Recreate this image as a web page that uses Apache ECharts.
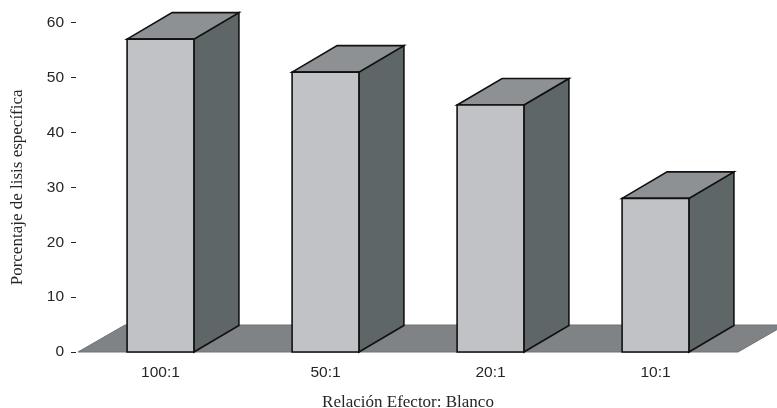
<!DOCTYPE html>
<html>
<head>
<meta charset="utf-8">
<script src="https://cdn.jsdelivr.net/npm/echarts@6/dist/echarts.min.js"></script>
<style>
  html, body { margin: 0; padding: 0; background: #ffffff; }
  #chart { width: 777px; height: 408px; }
</style>
</head>
<body>
<div id="chart"></div>
<script>
// Effector:target ratios and the specific lysis measured at each one
const categories = ['100:1', '50:1', '20:1', '10:1'];
const lysisValues = [57, 51, 45, 28];
const yTicks = [0, 10, 20, 30, 40, 50, 60];

// Oblique offset used for the box depth and the floor
const DEPTH_X = 45;
const DEPTH_Y = -26.5;

const chart = echarts.init(document.getElementById('chart'), null, { renderer: 'canvas' });

function renderFloor(params, api) {
  const cs = params.coordSys;
  const base = api.coord([0, 0])[1];
  const x0 = cs.x, x1 = cs.x + cs.width;
  return {
    type: 'polygon',
    shape: { points: [[x0, base], [x0 + DEPTH_X + 2, base + DEPTH_Y - 0.5], [x1 + DEPTH_X + 2, base + DEPTH_Y - 0.5], [x1, base]] },
    style: { fill: '#808386', stroke: '#6f7275', lineWidth: 1 }
  };
}

function renderBox(params, api) {
  const idx = api.value(0);
  const val = api.value(1);
  const top = api.coord([idx, val]);
  const base = api.coord([idx, 0])[1];
  const bw = api.size([1, 0])[0] * 0.405;
  const l = top[0] - bw / 2, r = top[0] + bw / 2, t = top[1];
  const edge = { stroke: '#111111', lineWidth: 1.6, lineJoin: 'miter' };
  return {
    type: 'group',
    children: [
      {
        type: 'polygon',
        shape: { points: [[r, t], [r + DEPTH_X, t + DEPTH_Y], [r + DEPTH_X, base + DEPTH_Y], [r, base]] },
        style: Object.assign({ fill: '#5f6668' }, edge)
      },
      {
        type: 'polygon',
        shape: { points: [[l, t], [l + DEPTH_X, t + DEPTH_Y], [r + DEPTH_X, t + DEPTH_Y], [r, t]] },
        style: Object.assign({ fill: '#8e9194' }, edge)
      },
      {
        type: 'rect',
        shape: { x: l, y: t, width: bw, height: base - t },
        style: Object.assign({ fill: '#c1c2c5' }, edge)
      }
    ]
  };
}

chart.setOption({
  animation: false,
  backgroundColor: '#ffffff',
  grid: { left: 78, right: 39, top: 22.7, bottom: 56, containLabel: false, outerBoundsMode: 'none' },
  xAxis: {
    type: 'category',
    data: categories,
    axisLine: { show: false },
    axisTick: { show: false },
    axisLabel: { margin: 13, color: '#262626', fontSize: 15.5, fontFamily: 'Liberation Sans, Arial, sans-serif' },
    name: 'Relación Efector: Blanco',
    nameLocation: 'middle',
    nameGap: 42,
    nameTextStyle: { color: '#262626', fontSize: 17, fontFamily: 'Liberation Serif, Times New Roman, serif' }
  },
  yAxis: {
    type: 'value',
    min: yTicks[0],
    max: yTicks[yTicks.length - 1],
    interval: yTicks[1] - yTicks[0],
    offset: 2,
    splitLine: { show: false },
    axisLine: { show: false },
    axisTick: { show: true, length: 5, lineStyle: { color: '#262626', width: 1 } },
    axisLabel: { margin: 12, color: '#262626', fontSize: 15.5, fontFamily: 'Liberation Sans, Arial, sans-serif' },
    name: 'Porcentaje de lisis específica',
    nameLocation: 'middle',
    nameRotate: 90,
    nameGap: 50,
    nameTextStyle: { color: '#262626', fontSize: 17, fontFamily: 'Liberation Serif, Times New Roman, serif' }
  },
  series: [
    {
      type: 'custom',
      name: 'floor',
      renderItem: renderFloor,
      data: [[0, 0]],
      clip: false,
      silent: true,
      z: 1
    },
    {
      type: 'custom',
      name: 'lisis',
      renderItem: renderBox,
      data: lysisValues.map((v, i) => [i, v]),
      clip: false,
      z: 2
    }
  ]
});
</script>
</body>
</html>
